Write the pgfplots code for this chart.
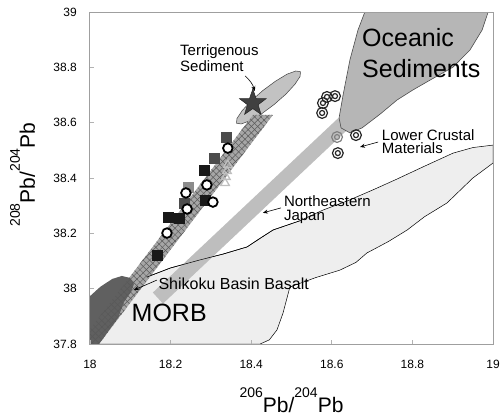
\documentclass[border=0pt]{standalone}
\usepackage{fontspec}
\setmainfont{Liberation Sans}
\usepackage{pgfplots}
\pgfplotsset{compat=1.18}
\usetikzlibrary{patterns.meta,arrows.meta}
\definecolor{regionfill}{HTML}{EEEEEE}
\definecolor{ellfill}{HTML}{C2C2C2}
\definecolor{bandfill}{HTML}{A6A6A6}
\definecolor{morbfill}{HTML}{606060}
\definecolor{nejband}{HTML}{BEBEBE}
\definecolor{oceanfill}{HTML}{B6B6B6}
\pgfdeclareplotmark{fstar}{%
  \pgfpathmoveto{\pgfpointpolar{90}{\pgfplotmarksize}}%
  \pgfpathlineto{\pgfpointpolar{126}{0.4\pgfplotmarksize}}%
  \pgfpathlineto{\pgfpointpolar{162}{\pgfplotmarksize}}%
  \pgfpathlineto{\pgfpointpolar{198}{0.4\pgfplotmarksize}}%
  \pgfpathlineto{\pgfpointpolar{234}{\pgfplotmarksize}}%
  \pgfpathlineto{\pgfpointpolar{270}{0.4\pgfplotmarksize}}%
  \pgfpathlineto{\pgfpointpolar{306}{\pgfplotmarksize}}%
  \pgfpathlineto{\pgfpointpolar{342}{0.4\pgfplotmarksize}}%
  \pgfpathlineto{\pgfpointpolar{18}{\pgfplotmarksize}}%
  \pgfpathlineto{\pgfpointpolar{54}{0.4\pgfplotmarksize}}%
  \pgfpathclose
  \pgfusepathqfillstroke
}
\newcommand{\sups}[1]{\raisebox{15pt}{\fontsize{14}{14}\selectfont #1}}
\begin{document}
\begin{tikzpicture}
\begin{axis}[
  scale only axis, width=403pt, height=332pt,
  xmin=18, xmax=19, ymin=37.8, ymax=39,
  xtick={18,18.2,18.4,18.6,18.8,19},
  ytick={37.8,38,38.2,38.4,38.6,38.8,39},
  tick align=inside, xtick pos=bottom, ytick pos=left,
  major tick length=4pt,
  tick style={gray!60, line width=0.8pt},
  axis line style={gray!75, line width=1pt},
  axis on top,
  /pgf/number format/assume math mode=true,
  ticklabel style={font=\fontsize{12}{14}\selectfont, inner sep=0pt},
  xticklabel shift=16pt, yticklabel shift=13pt,
  xlabel={\fontsize{21}{22}\selectfont\sups{206}Pb/\sups{204}Pb},
  ylabel={\fontsize{21}{22}\selectfont\sups{208}Pb/\sups{204}Pb},
  xlabel style={at={(axis description cs:0.5,-0.2063)}, anchor=base, inner sep=0pt},
  ylabel style={at={(axis description cs:-0.1365,0.51)}, anchor=base, inner sep=0pt},
]
% Northeastern Japan / Shikoku field
\addplot[fill=regionfill, draw=black, line width=0.5pt] coordinates {
 (18.0,37.966) (18.03,37.985) (18.082,38.006) (18.141,38.042) (18.2,38.075)
 (18.273,38.104) (18.33,38.125) (18.39,38.151) (18.42,38.18) (18.454,38.212)
 (18.52,38.245) (18.578,38.284) (18.64,38.318) (18.702,38.357) (18.76,38.395)
 (18.826,38.440) (18.901,38.490) (18.95,38.51) (19.0,38.519) (19.0,38.454)
 (18.95,38.40) (18.886,38.310) (18.83,38.26) (18.787,38.212) (18.74,38.17)
 (18.687,38.129) (18.66,38.095) (18.620,38.067) (18.56,38.04) (18.496,38.006)
 (18.479,37.912) (18.464,37.851) (18.445,37.815) (18.422,37.80) (18.0,37.8)
} --cycle;
% Terrigenous sediment ellipse
\addplot[fill=ellfill, draw=black!75, line width=0.5pt] coordinates {
 (18.5221,38.7842) (18.5214,38.7674) (18.5087,38.7390) (18.4862,38.7033)
 (18.4570,38.6657) (18.4256,38.6318) (18.3970,38.6071) (18.3752,38.5953)
 (18.3638,38.5978) (18.3644,38.6145) (18.3772,38.6429) (18.3997,38.6786)
 (18.4289,38.7162) (18.4603,38.7500) (18.4888,38.7752) (18.5107,38.7868)
} --cycle;
% mixing band (MORB - terrigenous)
\addplot[fill=bandfill, draw=none] coordinates {
 (17.942,37.742) (17.992,37.742) (18.454,38.628) (18.4045,38.628)
} --cycle;
% MORB
\addplot[fill=morbfill, draw=none] coordinates {
 (18.0,37.973) (18.025,38.006) (18.055,38.035) (18.079,38.046) (18.099,38.039)
 (18.109,38.017) (18.1017,37.988) (18.0844,37.952) (18.0695,37.894)
 (18.0223,37.8) (18.0,37.8)
} --cycle;
% crosshatch over band
\addplot[draw=none, pattern={Lines[angle=45,distance=4.5pt,line width=0.5pt]}, pattern color=black!65] coordinates {
 (17.942,37.742) (17.992,37.742) (18.454,38.628) (18.4045,38.628)
} --cycle;
\addplot[draw=none, pattern={Lines[angle=-45,distance=4.5pt,line width=0.5pt]}, pattern color=black!65] coordinates {
 (17.942,37.742) (17.992,37.742) (18.454,38.628) (18.4045,38.628)
} --cycle;
% Northeastern Japan band
\addplot[fill=nejband, draw=none] coordinates {
 (18.181,37.946) (18.156,37.986) (18.620,38.622) (18.645,38.583)
} --cycle;
% Oceanic sediments
\addplot[fill=oceanfill, draw=black!70, line width=0.6pt] coordinates {
 (18.682,39.0) (18.665,38.935) (18.645,38.827) (18.628,38.700) (18.618,38.617)
 (18.623,38.581) (18.645,38.563) (18.675,38.581) (18.720,38.631) (18.762,38.682)
 (18.801,38.718) (18.844,38.754) (18.901,38.801) (18.943,38.863) (18.973,38.935)
 (18.988,39.0)
} --cycle;
% field outline redrawn on top
\addplot[black, line width=0.5pt] coordinates {
 (18.141,38.042) (18.2,38.075) (18.273,38.104) (18.33,38.125) (18.39,38.151)
 (18.42,38.18) (18.454,38.212) (18.52,38.245)
};
% triangles
\addplot[only marks, mark=triangle, mark size=5pt, color=black!25, line width=1.3pt] coordinates {
 (18.342,38.447) (18.340,38.425) (18.337,38.404) (18.335,38.382)
};
% squares
\addplot[only marks, mark=square*, mark size=5pt, color=black!45] coordinates {
 (18.243,38.367)
};
\addplot[only marks, mark=square*, mark size=5pt, color=black!70] coordinates {
 (18.337,38.548) (18.308,38.472) (18.233,38.310)
};
\addplot[only marks, mark=square*, mark size=5pt, color=black!90] coordinates {
 (18.283,38.429) (18.285,38.320) (18.194,38.259) (18.221,38.255) (18.166,38.122)
};
% open circles
\addplot[only marks, mark=*, mark size=4.8pt, mark options={fill=white, draw=black, line width=1.8pt}] coordinates {
 (18.342,38.508) (18.290,38.375) (18.238,38.346) (18.305,38.313) (18.241,38.288) (18.191,38.201)
};
% double circles
\addplot[only marks, mark=o, mark size=5.4pt, color=black!85, line width=1.2pt] coordinates {
 (18.588,38.693) (18.608,38.696) (18.578,38.671) (18.576,38.635) (18.660,38.555) (18.615,38.490)
};
\addplot[only marks, mark=o, mark size=2.5pt, color=black!85, line width=1.2pt] coordinates {
 (18.588,38.693) (18.608,38.696) (18.578,38.671) (18.576,38.635) (18.660,38.555) (18.615,38.490)
};
\addplot[only marks, mark=o, mark size=5.4pt, color=black!50, line width=1.2pt] coordinates {(18.613,38.548)};
\addplot[only marks, mark=o, mark size=2.5pt, color=black!50, line width=1.2pt] coordinates {(18.613,38.548)};
% star
\addplot[only marks, mark=fstar, mark size=14pt, mark options={fill=black!75, draw=black!85, line width=0.5pt}] coordinates {(18.404,38.671)};
% labels
\node[anchor=base west, inner sep=0pt, font=\fontsize{15}{15}\selectfont] at (axis cs:18.2233,38.842) {Terrigenous};
\node[anchor=base west, inner sep=0pt, font=\fontsize{15}{15}\selectfont] at (axis cs:18.2233,38.784) {Sediment};
\node[anchor=base west, inner sep=0pt, font=\fontsize{25}{25}\selectfont] at (axis cs:18.675,38.875) {Oceanic};
\node[anchor=base west, inner sep=0pt, font=\fontsize{25}{25}\selectfont] at (axis cs:18.675,38.764) {Sediments};
\node[anchor=base west, inner sep=0pt, font=\fontsize{15}{15}\selectfont] at (axis cs:18.724,38.536) {Lower Crustal};
\node[anchor=base west, inner sep=0pt, font=\fontsize{15}{15}\selectfont] at (axis cs:18.724,38.487) {Materials};
\node[anchor=base west, inner sep=0pt, font=\fontsize{15}{15}\selectfont] at (axis cs:18.481,38.298) {Northeastern};
\node[anchor=base west, inner sep=0pt, font=\fontsize{15}{15}\selectfont] at (axis cs:18.481,38.246) {Japan};
\node[anchor=base west, inner sep=0pt, font=\fontsize{16}{16}\selectfont] at (axis cs:18.1695,37.998) {Shikoku Basin Basalt};
\node[anchor=base west, inner sep=0pt, font=\fontsize{25}{25}\selectfont] at (axis cs:18.103,37.881) {MORB};
% arrows
\draw[-{Stealth[length=5pt,width=4pt]}, line width=0.6pt] (axis cs:18.385,38.769) to[bend left=15] (axis cs:18.409,38.714);
\draw[-{Stealth[length=5pt,width=4pt]}, line width=0.6pt] (axis cs:18.474,38.292) -- (axis cs:18.429,38.274);
\draw[-{Stealth[length=5pt,width=4pt]}, line width=0.6pt] (axis cs:18.715,38.530) -- (axis cs:18.670,38.512);
\draw[-{Stealth[length=5pt,width=4pt]}, line width=0.6pt] (axis cs:18.166,38.031) -- (axis cs:18.109,37.995);
\end{axis}
\pgfresetboundingbox
\path[use as bounding box] (-90pt,-72pt) rectangle (413pt,344pt);
\end{tikzpicture}
\end{document}
